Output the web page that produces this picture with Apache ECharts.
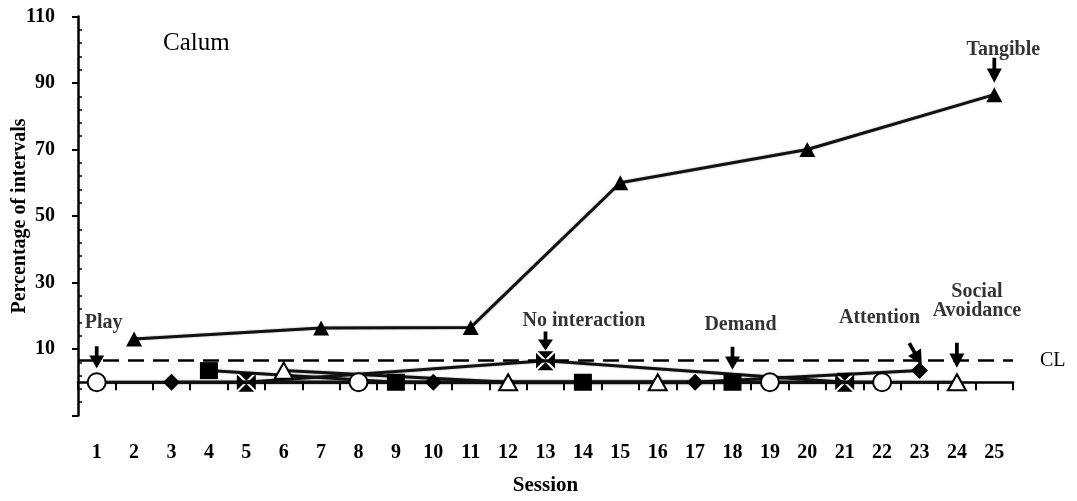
<!DOCTYPE html>
<html><head><meta charset="utf-8">
<script src="https://cdn.jsdelivr.net/npm/echarts@6/dist/echarts.min.js"></script>
<style>html,body{margin:0;padding:0;background:#fff}#c{width:1077px;height:501px}</style>
</head><body><div id="c"></div>
<script>
// ---- data ----
const sessions = ['1','2','3','4','5','6','7','8','9','10','11','12','13','14','15','16','17','18','19','20','21','22','23','24','25'];
const yMin = -10, yMax = 110, yStep = 20;

const tangibleSessions = ['2','7','11','15','20','25'];
const tangibleValues = [13, 16.3, 16.5, 60, 70, 86.5];
const playSessions = ['1','8','19','22'];
const playValues = [0, 0, 0, 0];
const demandSessions = ['4','9','14','18'];
const demandValues = [3.5, 0, 0, 0];
const attentionSessions = ['3','10','17','23'];
const attentionValues = [0, 0, 0, 3.5];
const noInteractionSessions = ['5','13','21'];
const noInteractionValues = [0, 6.5, 0];
const socialSessions = ['6','12','16','24'];
const socialValues = [3.5, 0, 0, 0];
const criterionLine = 6.5;

const annotationTexts = ['Play', 'No interaction', 'Demand', 'Attention', 'Social\nAvoidance', 'Tangible'];
const annotationSessions = ['1','13','18','23','24','25'];
const annotationValues = [7.5, 12.4, 7.2, 8.5, 8.1, 93.8];

// ---- layout / style (not data) ----
const arrowHeights = [22, 19, 23, 25, 25, 25];
const arrowRotations = [0, 0, 0, 30, 0, 0];
const arrowShifts = [[0,0],[0,0],[0,0],[-4,0],[0,0],[0,0]];
const labelOffsets = [[7,-34],[38.5,-20.5],[8,-33],[-40,-36],[20,-53.5],[9,-21]];

const FONT = 'Liberation Serif';
const ARROW = 'path://M6,0 L10,0 L10,11 L16,11 L8,26 L0,11 L6,11 Z';
const XBOX = 'path://M1.6,0 L18.4,0 L10,8.4 Z M20,1.6 L20,18.4 L11.6,10 Z M18.4,20 L1.6,20 L10,11.6 Z M0,18.4 L0,1.6 L8.4,10 Z';

const zip = (s, v) => s.map((x, i) => [x, v[i]]);

function lineSeries(name, s, v, extra) {
  return Object.assign({
    name, type: 'line', data: zip(s, v), symbol: 'none', z: 2,
    lineStyle: { color: '#111', width: 3, shadowColor: 'rgba(0,0,0,0.35)', shadowBlur: 2 },
    animation: false
  }, extra || {});
}
function markerSeries(name, s, v, symbol, size, fill, border) {
  return {
    name: name + ' markers', type: 'scatter', data: zip(s, v), symbol, symbolSize: size, z: 4,
    itemStyle: { color: fill, borderColor: '#000', borderWidth: border, opacity: 1 },
    animation: false
  };
}

const arrowData = annotationSessions.map((s, i) => ({
  value: [s, annotationValues[i]],
  symbolSize: [15, arrowHeights[i]],
  symbolRotate: arrowRotations[i],
  symbolOffset: arrowShifts[i]
}));
const labelData = annotationSessions.map((s, i) => ({
  name: annotationTexts[i],
  value: [s, annotationValues[i]],
  label: { offset: labelOffsets[i] }
}));

const chart = echarts.init(document.getElementById('c'), null, { renderer: 'canvas' });
chart.setOption({
  animation: false,
  backgroundColor: '#fff',
  title: { text: 'Calum', left: 163, top: 31, padding: 0,
    textStyle: { fontFamily: FONT, fontWeight: 'normal', fontSize: 25, color: '#000' } },
  grid: { left: 78, right: 64, top: 16.5, bottom: 85.5, containLabel: false, outerBoundsMode: 'none' },
  xAxis: {
    type: 'category', data: sessions, boundaryGap: true,
    name: 'Session', nameLocation: 'middle', nameGap: 60, nameMoveOverlap: false,
    nameTextStyle: { fontFamily: FONT, fontWeight: 'bold', fontSize: 21, color: '#000' },
    axisLine: { lineStyle: { color: '#000', width: 2.5 } },
    axisTick: { show: true, alignWithLabel: false, length: 8, lineStyle: { color: '#000', width: 2 } },
    axisLabel: { fontFamily: FONT, fontWeight: 'bold', fontSize: 20, color: '#000', margin: 27, interval: 0 },
    splitLine: { show: false }
  },
  yAxis: [{
    type: 'value', min: yMin, max: yMax, interval: yStep,
    name: 'Percentage of intervals', nameLocation: 'middle', nameGap: 48, nameRotate: 90, nameMoveOverlap: false,
    nameTextStyle: { fontFamily: FONT, fontWeight: 'bold', fontSize: 20, color: '#000' },
    axisLine: { show: true, lineStyle: { color: '#000', width: 2.5 } },
    axisTick: { show: true, length: 6, lineStyle: { color: '#000', width: 2 } },
    axisLabel: { fontFamily: FONT, fontWeight: 'bold', fontSize: 20, color: '#000', margin: 23,
      formatter: v => (v === yMin ? '' : String(v)) },
    splitLine: { show: false }
  }, {
    type: 'value', min: yMin, max: yMax, interval: yStep, position: 'left', offset: 0,
    axisLine: { show: false },
    axisTick: { show: false, inside: true },
    minorTick: { show: true, splitNumber: 5, length: 4, lineStyle: { color: '#000', width: 1.5 } },
    axisLabel: { show: false },
    splitLine: { show: false }
  }],
  series: [
    lineSeries('Play', playSessions, playValues),
    lineSeries('Attention', attentionSessions, attentionValues),
    lineSeries('Demand', demandSessions, demandValues),
    lineSeries('Social avoidance', socialSessions, socialValues),
    lineSeries('No interaction', noInteractionSessions, noInteractionValues),
    lineSeries('Tangible', tangibleSessions, tangibleValues, {
      markLine: {
        silent: true, symbol: 'none', animation: false,
        lineStyle: { type: [16, 9], color: '#000', width: 2.5, shadowBlur: 0 },
        label: { show: true, position: 'end', formatter: 'CL', distance: 27,
          fontFamily: FONT, fontSize: 20, color: '#000' },
        data: [{ yAxis: criterionLine }]
      }
    }),
    markerSeries('Play', playSessions, playValues, 'circle', 18, '#fff', 2),
    markerSeries('Attention', attentionSessions, attentionValues, 'diamond', [17, 17], '#000', 0),
    markerSeries('Demand', demandSessions, demandValues, 'rect', [18, 17], '#000', 0),
    markerSeries('Social avoidance', socialSessions, socialValues, 'triangle', [18, 16], '#fff', 2),
    markerSeries('No interaction', noInteractionSessions, noInteractionValues, XBOX, 19, '#000', 0),
    markerSeries('Tangible', tangibleSessions, tangibleValues, 'triangle', [16, 15], '#000', 0),
    {
      name: 'arrows', type: 'scatter', symbol: ARROW, data: arrowData, z: 5,
      itemStyle: { color: '#000', opacity: 1 }, animation: false, silent: true
    },
    {
      name: 'annotations', type: 'scatter', symbol: 'circle', symbolSize: 1, data: labelData, z: 6,
      itemStyle: { color: 'rgba(0,0,0,0)' }, animation: false, silent: true,
      label: { show: true, position: 'inside', formatter: p => p.name,
        fontFamily: FONT, fontWeight: 'bold', fontSize: 20, lineHeight: 19, color: '#000', align: 'center' }
    }
  ]
});
</script>
</body></html>
